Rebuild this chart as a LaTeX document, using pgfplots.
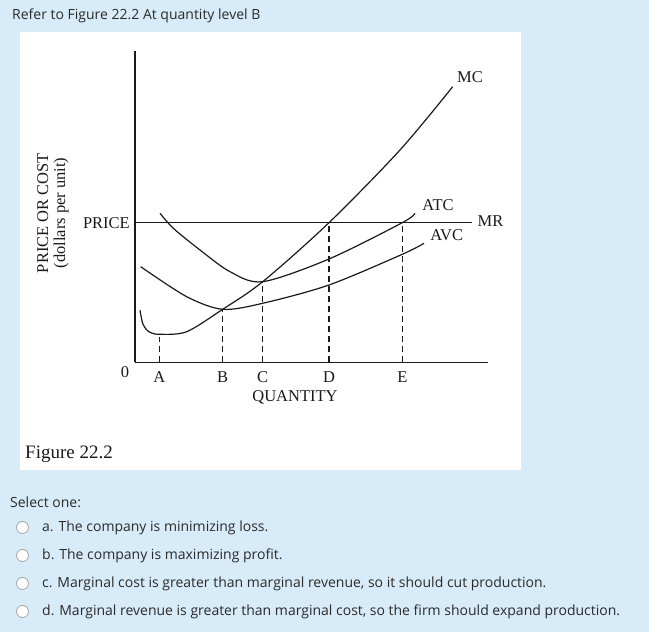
\documentclass[border=0pt]{standalone}
\usepackage{pgfplots}
\pgfplotsset{compat=1.18}
\usepackage{fontspec}
\setmainfont{Open Sans}
\newfontfamily\tnr{Liberation Serif}
\definecolor{bgblue}{HTML}{D8EBF8}
\definecolor{txt}{HTML}{2B2B2B}
\definecolor{ink}{HTML}{1A1A1A}
\newcommand{\cf}{\tnr\fontsize{16.5bp}{17bp}\selectfont}
\begin{document}
\begin{tikzpicture}[x=1bp,y=1bp]
\fill[bgblue] (0,0) rectangle (649,632);
\fill[white] (20,162) rectangle (521,600);
% question text
\node[anchor=base west,inner sep=0,text=txt,font=\fontsize{14bp}{16bp}\selectfont] at (12,612) {Refer to Figure 22.2 At quantity level B};
\node[anchor=base west,inner sep=0,text=ink,font=\tnr\fontsize{19bp}{20bp}\selectfont] at (25,173) {Figure 22.2};
\node[anchor=center,rotate=90,align=center,inner sep=0,text=ink,font=\cf] at (53,419) {PRICE OR COST\\(dollars per unit)};
\node[anchor=base west,inner sep=0,text=txt,font=\fontsize{14bp}{16bp}\selectfont] at (10,124) {Select one:};
\foreach \y/\t in {100/{a. The company is minimizing loss.},72/{b. The company is maximizing profit.},44/{c. Marginal cost is greater than marginal revenue, so it should cut production.},16/{d. Marginal revenue is greater than marginal cost, so the firm should expand production.}}{
  \node[anchor=base west,inner sep=0,text=txt,font=\fontsize{14bp}{16bp}\selectfont] at (42,\y) {\t};
  \filldraw[fill=white,draw=black!35,line width=0.8bp] (22.5,\y+4.5) circle (6bp);
}
\begin{axis}[
  at={(135,269.7)}, anchor=south west,
  scale only axis, width=353bp, height=311.6bp,
  xmin=0, xmax=353, ymin=0, ymax=311.6,
  axis x line=bottom, axis y line=left,
  axis line style={-,ink,line width=1.1bp},
  xtick=\empty, ytick=\empty,
  clip=false,
]
% MR / price line
\addplot[ink,line width=1.2bp] coordinates {(0,139.6) (336.7,139.6)};
% MC
\addplot[ink,line width=1.2bp,smooth] coordinates {(5,52) (8,38) (14,30.5) (24.3,28) (51.7,30.6) (87.7,53) (127.7,80.6) (194,139.6) (265,212.3) (317.7,275.6)};
% ATC
\addplot[ink,line width=1.2bp,smooth] coordinates {(25,149) (38.3,134) (65,112.3) (95,90.6) (127.7,80.6) (194,103.3) (267.3,139.6) (280,149)};
% AVC
\addplot[ink,line width=1.2bp,smooth] coordinates {(5.7,95.6) (51.7,65.6) (87.7,53) (127.7,59) (194,77.3) (267.3,108) (289,119)};
% dashed guides
\addplot[ink,dash pattern=on 6bp off 4bp,line width=1.3bp] coordinates {(24.3,0) (24.3,25.6)};
\addplot[ink,dash pattern=on 6bp off 4bp,line width=1.3bp] coordinates {(87.7,0) (87.7,53)};
\addplot[ink,dash pattern=on 6bp off 4bp,line width=1.3bp] coordinates {(127.7,0) (127.7,80.6)};
\addplot[ink,dash pattern=on 6bp off 4bp,line width=1.3bp] coordinates {(194,0) (194,139.6)};
\addplot[ink,dash pattern=on 6bp off 4bp,line width=1.3bp] coordinates {(267.3,0) (267.3,139.6)};
% labels
\node[font=\cf,text=ink,inner sep=0] at (axis cs:-10,-9.4) {0};
\node[font=\cf,text=ink,inner sep=0] at (axis cs:24.3,-15) {A};
\node[font=\cf,text=ink,inner sep=0] at (axis cs:87.7,-15) {B};
\node[font=\cf,text=ink,inner sep=0] at (axis cs:127.7,-15) {C};
\node[font=\cf,text=ink,inner sep=0] at (axis cs:194,-15) {D};
\node[font=\cf,text=ink,inner sep=0] at (axis cs:267.3,-15) {E};
\node[font=\cf,text=ink,inner sep=0] at (axis cs:160,-35) {QUANTITY};
\node[font=\cf,text=ink,inner sep=0,anchor=east] at (axis cs:-5,139.6) {PRICE};
\node[font=\cf,text=ink,inner sep=0] at (axis cs:335,285.6) {MC};
\node[font=\cf,text=ink,inner sep=0] at (axis cs:303,157.3) {ATC};
\node[font=\cf,text=ink,inner sep=0] at (axis cs:311.7,127.3) {AVC};
\node[font=\cf,text=ink,inner sep=0] at (axis cs:355.5,141.3) {MR};
\end{axis}
\end{tikzpicture}
\end{document}
